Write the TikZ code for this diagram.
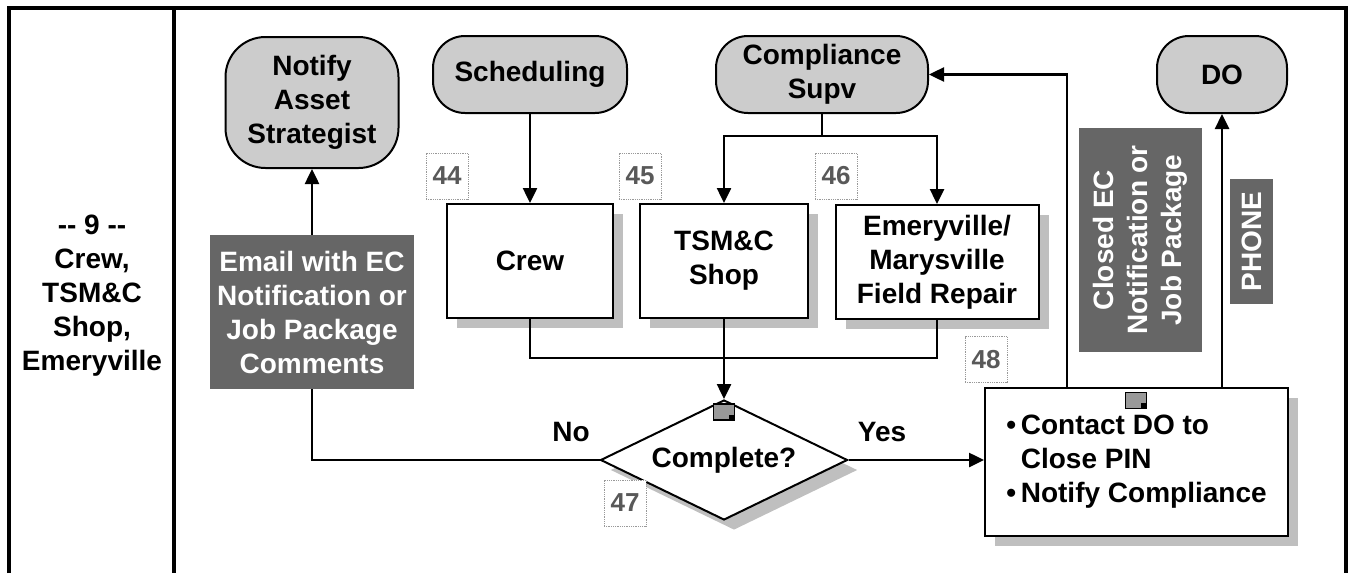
\documentclass[tikz,border=0pt]{standalone}
\usepackage{fontspec}
\setmainfont{Liberation Sans}
\usetikzlibrary{arrows.meta,shapes.geometric,shadows}
\tikzset{
  term/.style={draw, line width=2pt, rounded corners=32pt, fill=black!20, align=center, inner sep=0pt},
  proc/.style={draw, line width=2pt, fill=white, align=center, inner sep=0pt,
    general shadow={shadow xshift=10pt, shadow yshift=-10pt, fill=black!25}},
  dark/.style={fill=black!60, text=white, align=center, inner sep=0pt},
  tag/.style={draw=black!40, densely dotted, line width=0.8pt, fill=white, text=black!65, inner sep=0pt,
    minimum width=42pt, minimum height=46pt, font=\fontsize{26}{30}\selectfont\bfseries},
  flow/.style={line width=2.5pt, -{Triangle[length=15pt,width=14pt]}},
  link/.style={line width=2.5pt},
  icon/.style={draw, line width=1.2pt, fill=black!40, minimum width=21pt, minimum height=16pt, inner sep=0pt}
}
\begin{document}
\begin{tikzpicture}[x=1pt, y=-1pt, font=\fontsize{28}{34}\selectfont\bfseries]
	\useasboundingbox (0,0) rectangle (1351,573);
	\draw[line width=4pt] (9,573) -- (9,7.5) -- (1346,7.5) -- (1346,573);
	\draw[line width=4pt] (174,7.5) -- (174,573);
	\node[align=center] (lane) at (92,296) {\mbox{-}\mbox{-} 9 \mbox{-}\mbox{-}\\Crew,\\TSM\&C\\Shop,\\Emeryville};
	\node[term, rounded corners=40pt, minimum width=173pt, minimum height=131pt] (notify) at (312,102.5) {Notify\\Asset\\Strategist};
	\node[term, minimum width=194pt, minimum height=77pt] (sched) at (530,74.5) {Scheduling};
	\node[term, minimum width=212pt, minimum height=77pt] (compl) at (822,74.5) {Compliance\\Supv};
	\node[term, minimum width=130pt, minimum height=77pt] (do) at (1222,74.5) {DO};
	\node[proc, minimum width=166pt, minimum height=114pt] (crew) at (530,261) {Crew};
	\node[proc, minimum width=168pt, minimum height=114pt] (tsmc) at (724,261) {TSM\&C\\Shop};
	\node[proc, minimum width=203pt, minimum height=114pt] (emery) at (937,262) {Emeryville/\\Marysville\\Field Repair};
	\node[dark, minimum width=204pt, minimum height=154pt] (email) at (312,312) {Email with EC\\Notification or\\Job Package\\Comments};
	\node[dark, rotate=90, minimum width=224pt, minimum height=123pt] (closed) at (1140.5,240) {Closed EC\\Notification or\\Job Package};
	\node[dark, rotate=90, minimum width=125pt, minimum height=43pt] (phone) at (1251.5,241.5) {PHONE};
	\node[proc, diamond, aspect=2.06, minimum width=247pt, minimum height=120pt] (dec) at (724,460) {Complete?};
	\node[proc, align=left, minimum width=303pt, minimum height=148pt] (final) at (1136.5,462)
		{\textbullet\,Contact DO to\\\hphantom{\textbullet\,}Close PIN\\\textbullet\,Notify Compliance};
	\node[icon] (icondec) at (724,412) {};
	\fill (icondec.south east) rectangle ++(-6,-6);
	\node[icon] (iconfin) at (1136,400.5) {};
	\fill (iconfin.south east) rectangle ++(-6,-6);
	\node[tag] (n44) at (447,176) {44};
	\node[tag] (n45) at (640,176) {45};
	\node[tag] (n46) at (836,176) {46};
	\node[tag] (n47) at (625,503) {47};
	\node[tag] (n48) at (986,359.5) {48};
	\node (no) at (571,432) {No};
	\node (yes) at (882,432) {Yes};
	\draw[flow] (email) -- (notify);
	\draw[flow] (sched) -- (crew);
	\coordinate (split) at (822,136);
	\draw[link] (compl) -- (split);
	\draw[flow] (split) -| (tsmc.north);
	\draw[flow] (split) -| (emery.north);
	\coordinate (join) at (724,358);
	\draw[link] (crew) |- (join) -| (emery);
	\draw[flow] (tsmc) -- (dec);
	\draw[link] (dec.west) -| (email.south);
	\draw[flow] (dec.east) -- (dec.east -| final.west);
	\draw[flow] (final.north west) ++(83,0) |- (compl.east);
	\draw[flow] (final.north -| do.south) -- (do.south);
\end{tikzpicture}
\end{document}
